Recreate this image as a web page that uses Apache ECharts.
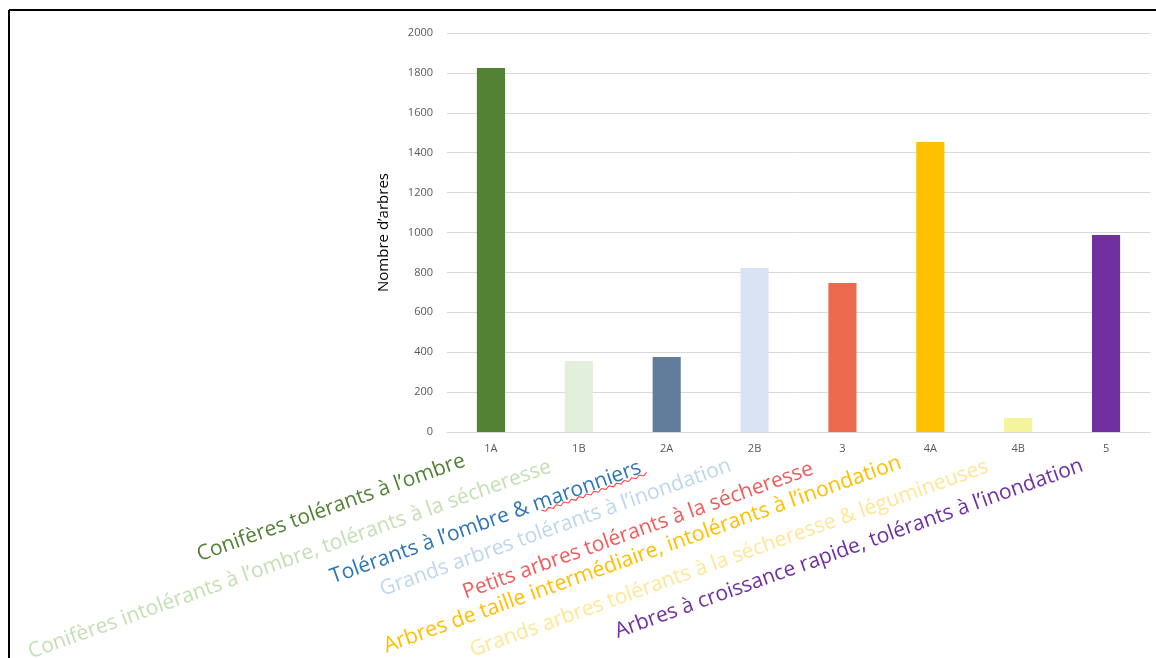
<!DOCTYPE html>
<html><head><meta charset="utf-8">
<script src="https://cdn.jsdelivr.net/npm/echarts@6/dist/echarts.min.js"></script>
<style>html,body{margin:0;padding:0;background:#fff;}#c{width:1156px;height:658px;}</style>
</head><body><div id="c"></div>
<script>
const categories = ['1A','1B','2A','2B','3','4A','4B','5'];
const values = [1825, 356, 376, 822, 747, 1454, 70, 987];
const barColors = ['#548235','#E2EFDA','#627C9C','#DAE3F3','#EB6A4E','#FFC000','#F4F49A','#7030A0'];
const yTicks = [0,200,400,600,800,1000,1200,1400,1600,1800,2000];
const groupLabels = [
  'Conifères tolérants à l’ombre',
  'Conifères intolérants à l’ombre, tolérants à la sécheresse',
  'Tolérants à l’ombre & maronniers',
  'Grands arbres tolérants à l’inondation',
  'Petits arbres tolérants à la sécheresse',
  'Arbres de taille intermédiaire, intolérants à l’inondation',
  'Grands arbres tolérants à la sécheresse & légumineuses',
  'Arbres à croissance rapide, tolérants à l’inondation'
];
const groupColors = ['#538135','#C5E0B4','#2E75B6','#BDD7EE','#F25C5C','#FFC000','#FFE699','#7030A0'];
// end (right-top) anchor of each rotated annotation and its font size
const groupAnchors = [[468,470,21],[554,476,21],[644,477,21],[734,475,21],[816,478,21],[904,472,21.3],[991,476,21],[1086,475,21]];

const chart = echarts.init(document.getElementById('c'));
const rot = 19.7 * Math.PI / 180;
const graphics = [
  {type:'line', shape:{x1:9,y1:10,x2:1156,y2:10}, style:{stroke:'#000',lineWidth:2}},
  {type:'line', shape:{x1:9,y1:10,x2:9,y2:658}, style:{stroke:'#000',lineWidth:2}}
];
groupLabels.forEach((t,i)=>{
  const a = groupAnchors[i];
  graphics.push({type:'text', x:a[0], y:a[1], rotation:rot,
    style:{text:t, fill:groupColors[i], font:a[2]+'px "Open Sans"', textAlign:'right', textVerticalAlign:'bottom'}});
});
// spell-check wavy underline beneath "maronniers"
const wave = [];
for (let k = 0; k <= 28; k++) wave.push([-108 + k * 4, k % 2 ? -1 : -3.5]);
graphics.push({type:'polyline', x:groupAnchors[2][0], y:groupAnchors[2][1], rotation:rot,
  shape:{points:wave}, style:{stroke:'#FF3B3B', lineWidth:1, fill:null}});

chart.setOption({
  animation:false,
  grid:{left:447,right:6,top:33,bottom:226},
  xAxis:{type:'category', data:categories,
    axisLine:{lineStyle:{color:'#D9D9D9'}}, axisTick:{show:false},
    axisLabel:{color:'#595959', fontSize:11, fontFamily:'"Open Sans"', margin:11}},
  yAxis:{type:'value', min:0, max:2000, interval:200,
    name:'Nombre d’arbres', nameLocation:'middle', nameGap:56, nameRotate:90,
    nameTextStyle:{color:'#000', fontSize:15, fontFamily:'"Open Sans"'},
    axisLine:{show:false}, axisTick:{show:false},
    splitLine:{lineStyle:{color:'#D9D9D9'}},
    axisLabel:{color:'#595959', fontSize:11, fontFamily:'"Open Sans"', margin:14,
      formatter: v => yTicks.includes(v) ? String(v) : ''}},
  series:[{type:'bar', barWidth:'32%',
    data: values.map((v,i)=>({value:v, itemStyle:{color:barColors[i]}}))}],
  graphic: graphics
});
</script></body></html>
